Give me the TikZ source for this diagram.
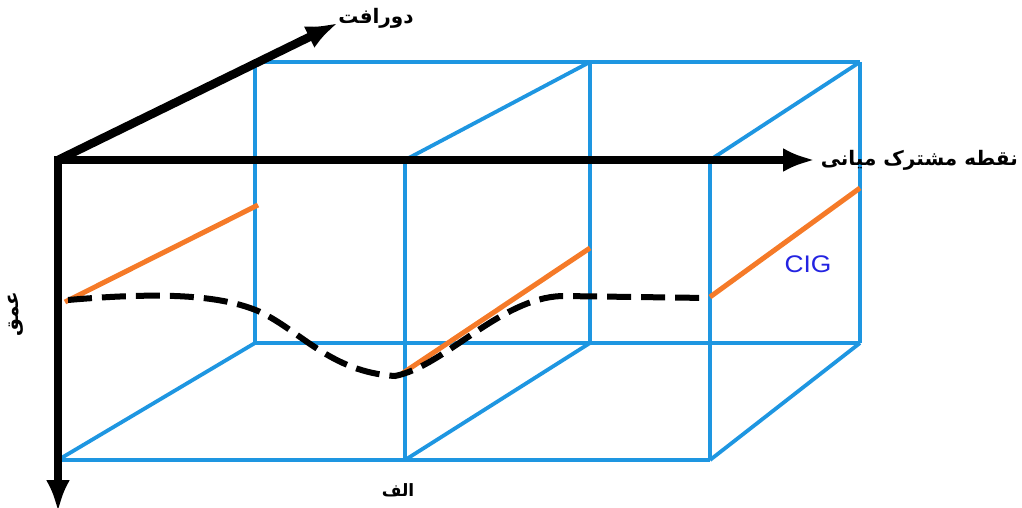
\documentclass[tikz,border=0pt]{standalone}
\usepackage{fontspec}
\usepackage{xcolor}
\usepackage{tikz}
\usetikzlibrary{arrows.meta}
\usetikzlibrary{calc}
\newfontfamily\arabicfont[Script=Arabic]{DejaVu Sans}
\newfontfamily\cigfont{Liberation Sans}
\TeXXeTstate=1
\definecolor{boxblue}{RGB}{30,150,225}
\definecolor{cigorange}{RGB}{245,122,40}
\definecolor{ciglabel}{RGB}{35,35,225}

\begin{document}
\begin{tikzpicture}[x=1pt,y=-1pt,
		boxedge/.style={boxblue,line width=3.8pt},
		cigline/.style={cigorange,line width=5pt},
		axis/.style={black,line width=8.5pt,-{Latex[length=32pt,width=24pt]}},
		farsi/.style={font=\arabicfont\bfseries\fontsize{20}{22}\selectfont,inner sep=1pt}]
		\useasboundingbox (0,0) rectangle (1022,508);
		
		% Front and back corners of the three slabs
		\foreach \name/\x in {fa/58, fb/405, fc/710} {
			\coordinate (\name t) at (\x,160);
			\coordinate (\name b) at (\x,460);
		}
		\foreach \name/\x in {ba/255, bb/590, bc/860} {
			\coordinate (\name t) at (\x,62);
			\coordinate (\name b) at (\x,343);
		}
		
		% Blue box edges
		\draw[boxedge] (fat) -- (fct);
		\draw[boxedge] (fab) -- (fcb);
		\draw[boxedge] (bat) -- (bct);
		\draw[boxedge] (bab) -- (bcb);
		\foreach \name in {fb, fc, ba, bb, bc} {
			\draw[boxedge] (\name t) -- (\name b);
		}
		\foreach \f/\b in {fa/ba, fb/bb, fc/bc} {
			\draw[boxedge] (\f b) -- (\b b);
		}
		\draw[boxedge] (fbt) -- (bbt);
		\draw[boxedge] (fct) -- (bct);
		
		% Orange CIG lines
		\coordinate (cia) at (65,302);  \coordinate (cja) at (258,205);
		\coordinate (cib) at (403,373); \coordinate (cjb) at (590,248);
		\coordinate (cic) at (710,297); \coordinate (cjc) at (860,188);
		\foreach \s in {a, b, c} {
			\draw[cigline] (ci\s) -- (cj\s);
		}
		\node[ciglabel,font=\cigfont\fontsize{24}{26}\selectfont,xscale=1.1] (cig) at (808,264) {CIG};
		
		% Dashed horizon
		\draw[black,line width=6pt,dash pattern=on 24pt off 10pt]
		(68,300) .. controls (150,293) and (215,293) .. (258,311)
		.. controls (300,330) and (330,372) .. (395,376)
		.. controls (445,366) and (500,298) .. (562,296) -- (708,298);
		
		% Axes
		\coordinate (o) at (58,160);
		\coordinate (xend) at (815,160);
		\coordinate (zend) at (58,512);
		\coordinate (hend) at (338,23);
		\draw[axis] (o) -- (xend);
		\draw[axis] ($(o)+(0,-4)$) -- (zend);
		\draw[axis] (o) -- (hend);
		
		% Labels
		\node[farsi] (offset) at (376,18) {\beginR دورافت\endR};
		\node[farsi,anchor=east] (cmp) at (1019,160) {\beginR نقطه مشترک میانی\endR};
		\node[farsi,rotate=90] (depth) at (16,314) {\beginR عمق\endR};
		\node[farsi,font=\arabicfont\bfseries\fontsize{17}{19}\selectfont] (alef) at (398,490) {\beginR الف\endR};
	\end{tikzpicture}
\end{document}
